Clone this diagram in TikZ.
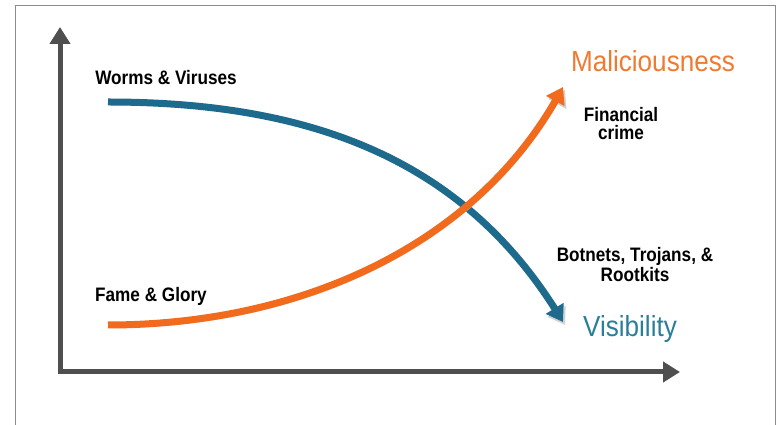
\documentclass[tikz,border=0pt]{standalone}
\usepackage{fontspec}
\setmainfont{Liberation Sans}
\usepackage{xcolor}
\usetikzlibrary{arrows.meta,bending}

\definecolor{axisgray}{HTML}{4F4F4F}
\definecolor{framegray}{HTML}{8C8C8C}
\definecolor{visblue}{HTML}{1E6A8C}
\definecolor{visteal}{HTML}{2A7E98}
\definecolor{malorange}{HTML}{F26B1D}
\definecolor{maltext}{HTML}{EF7A30}

\tikzset{
  tag/.style={font=\bfseries\fontsize{19.5}{20}\selectfont, xscale=0.88, align=center, inner sep=0pt, anchor=base},
  bigtag/.style={font=\fontsize{29}{30}\selectfont, xscale=0.9, inner sep=0pt, anchor=base},
  axis/.style={axisgray, line width=5pt, {Triangle[width=20pt,length=17pt]}-{Triangle[width=20pt,length=17pt]}},
  trend/.style={line width=7pt, -{Triangle[width=20pt,length=16pt]},
    preaction={draw=black!18, transform canvas={shift={(2pt,-3pt)}}}}
}

\begin{document}
\begin{tikzpicture}[x=1pt, y=1pt]
    \useasboundingbox (0,0) rectangle (781,425);
    \draw[framegray, line width=1pt] (15,0) |- (775,419) -- (775,0);

    \coordinate (origin) at (60,53);
    \coordinate (ytop) at (60,398);
    \coordinate (xend) at (680,53);
    \draw[axis] (ytop) |- (xend);

    \coordinate (viruses) at (108,323);
    \coordinate (visibility) at (563,103);
    \coordinate (glory) at (108,100);
    \coordinate (malice) at (563,338);
    \draw[trend, visblue] (viruses) .. controls (320,323) and (470,260) .. (visibility);
    \draw[trend, malorange] (glory) .. controls (300,100) and (480,180) .. (malice);

    \node[tag](worms) at (166,340) {Worms \& Viruses};
    \node[tag](fame) at (151,123) {Fame \& Glory};
    \node[tag, font=\bfseries\fontsize{19.5}{18}\selectfont](crime) at (621,285) {Financial\\crime};
    \node[tag](botnets) at (635,143) {Botnets, Trojans, \&\\Rootkits};
    \node[bigtag, text=maltext](maltitle) at (653,353) {Maliciousness};
    \node[bigtag, text=visteal](vistitle) at (630,88) {Visibility};
\end{tikzpicture}
\end{document}
